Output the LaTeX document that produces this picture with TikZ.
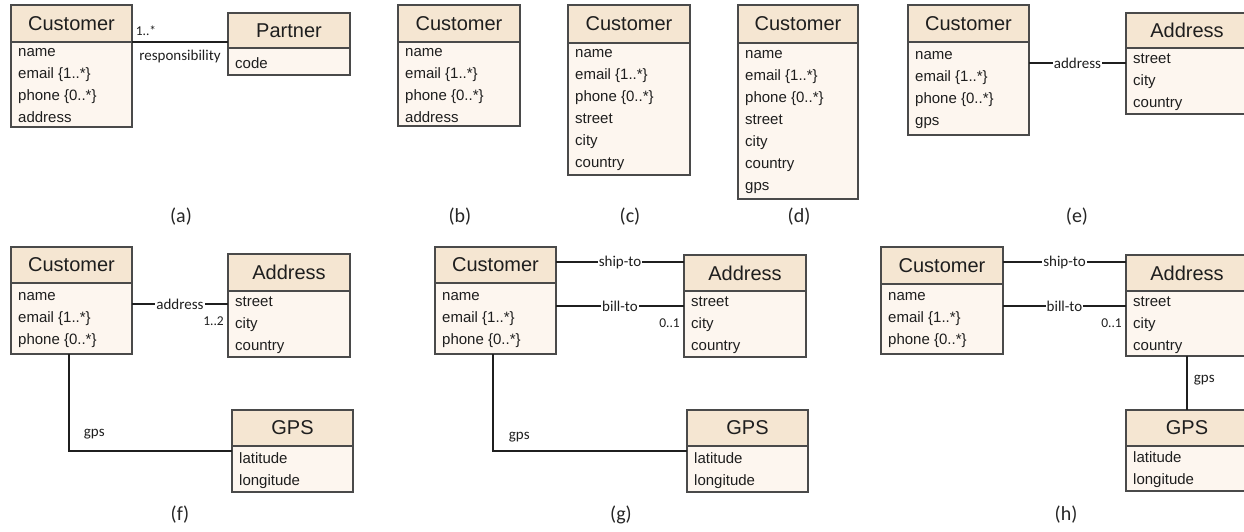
\documentclass[tikz,border=0pt]{standalone}
\usepackage{fontspec}
\setmainfont{Liberation Sans}
\newfontfamily\lblfont{Carlito}
\usetikzlibrary{calc}
\definecolor{hdrfill}{HTML}{F5E6D2}
\definecolor{bdyfill}{HTML}{FDF6EF}
\definecolor{boxline}{HTML}{4A4A4A}
\definecolor{txt}{HTML}{1E1E1E}
\tikzset{
 hdr/.style={draw=boxline, line width=1.4pt, fill=hdrfill, inner sep=0pt, outer sep=0pt, font=\fontsize{20}{24}\selectfont, text=txt},
 bdy/.style={draw=boxline, line width=1.4pt, fill=bdyfill, inner sep=0pt, outer sep=0pt},
 attr/.style={align=left, inner sep=0pt, font=\fontsize{15}{22}\selectfont, text=txt},
 conn/.style={line width=1.8pt, draw=black!88},
 onlbl/.style={fill=white, inner sep=1pt, font=\lblfont\fontsize{15}{17}\selectfont, text=txt},
 lbl/.style={inner sep=1pt, font=\lblfont\fontsize{15}{17}\selectfont, text=txt},
 mult/.style={inner sep=0pt, font=\lblfont\fontsize{13.5}{15}\selectfont, text=txt},
 subcap/.style={inner sep=0pt, font=\lblfont\fontsize{20}{24}\selectfont, text=black!85},
}
% #1 name, #2 x, #3 y, #4 width, #5 header height, #6 body height, #7 title, #8 attributes
\newcommand\umlbox[8]{%
 \node[hdr, minimum width=#4pt, minimum height=#5pt, anchor=north west] (#1h) at (#2,#3) {#7};
 \node[bdy, minimum width=#4pt, minimum height=#6pt, anchor=north west] (#1) at (#1h.south west) {};
 \node[attr, anchor=west] (#1t) at ([xshift=7pt,yshift=-1.5pt]#1.west) {#8};
}
\begin{document}
\begin{tikzpicture}[x=1pt,y=-1pt]
\useasboundingbox (0,0) rectangle (1244,531);
\clip (0,0) rectangle (1244,531);
% (a)
\umlbox{caA}{11}{5}{121}{37}{85}{Customer}{name\\email \{1..*\}\\phone \{0..*\}\\address}
\umlbox{paA}{228}{13}{122}{35}{27}{Partner}{code}
\draw[conn] (caAh.south east) -- (caAh.south east -| paAh.west)
  node[pos=0.146, mult, anchor=base, yshift=6.5pt] {1..*}
  node[pos=0.5, lbl, anchor=base, yshift=-18pt] {responsibility};
% (b)
\umlbox{cuB}{398}{5}{122}{37}{84}{Customer}{name\\email \{1..*\}\\phone \{0..*\}\\address}
% (c)
\umlbox{cuC}{568}{5}{122}{38}{132}{Customer}{name\\email \{1..*\}\\phone \{0..*\}\\street\\city\\country}
% (d)
\umlbox{cuD}{738}{5}{120}{38}{156}{Customer}{name\\email \{1..*\}\\phone \{0..*\}\\street\\city\\country\\gps}
% (e)
\umlbox{cuE}{908}{5}{121}{37}{93}{Customer}{name\\email \{1..*\}\\phone \{0..*\}\\gps}
\umlbox{adE}{1126}{13}{122}{35}{66}{Address}{street\\city\\country}
\coordinate (eA) at ([yshift=-15pt]adE.north west);
\draw[conn] (cuE.east |- eA) -- (eA) node[midway, onlbl] {address};
% (f)
\umlbox{cuF}{11}{247}{121}{36}{71}{Customer}{name\\email \{1..*\}\\phone \{0..*\}}
\umlbox{adF}{228}{254}{122}{37}{66}{Address}{street\\city\\country}
\umlbox{gpF}{232}{410}{121}{36}{46}{GPS}{latitude\\longitude}
\coordinate (fA) at ([yshift=-13pt]adF.north west);
\draw[conn] (cuF.east |- fA) -- (fA) node[midway, onlbl] {address};
\node[mult, anchor=north east, xshift=-4pt, yshift=-12.5pt] (fM) at (fA) {1..2};
\coordinate (fG) at ([yshift=-5pt]gpF.north west);
\draw[conn] ([xshift=-2.5pt]cuF.south) |- (fG)
  node[pos=0.5, lbl, anchor=base west, xshift=13pt, yshift=15pt] {gps};
% (g)
\umlbox{cuG}{435}{247}{121}{36}{71}{Customer}{name\\email \{1..*\}\\phone \{0..*\}}
\umlbox{adG}{684}{255}{122}{36}{66}{Address}{street\\city\\country}
\umlbox{gpG}{687}{410}{121}{36}{46}{GPS}{latitude\\longitude}
\coordinate (gS) at ([yshift=-7pt]adGh.north west);
\coordinate (gB) at ([yshift=-15pt]adG.north west);
\draw[conn] (cuGh.east |- gS) -- (gS) node[midway, onlbl] {ship-to};
\draw[conn] (cuG.east |- gB) -- (gB) node[midway, onlbl] {bill-to};
\node[mult, anchor=north east, xshift=-4pt, yshift=-12.5pt] (gM) at (gB) {0..1};
\coordinate (gG) at ([yshift=-5pt]gpG.north west);
\draw[conn] ([xshift=-2.5pt]cuG.south) |- (gG)
  node[pos=0.5, lbl, anchor=base west, xshift=14pt, yshift=12pt] {gps};
% (h)
\umlbox{cuH}{881}{247}{122}{37}{70}{Customer}{name\\email \{1..*\}\\phone \{0..*\}}
\umlbox{adH}{1126}{255}{122}{36}{65}{Address}{street\\city\\country}
\umlbox{gpH}{1126}{410}{122}{36}{45}{GPS}{latitude\\longitude}
\coordinate (hS) at ([yshift=-7pt]adHh.north west);
\coordinate (hB) at ([yshift=-15pt]adH.north west);
\draw[conn] (cuHh.east |- hS) -- (hS) node[midway, onlbl] {ship-to};
\draw[conn] (cuH.east |- hB) -- (hB) node[midway, onlbl] {bill-to};
\node[mult, anchor=north east, xshift=-4pt, yshift=-12.5pt] (hM) at (hB) {0..1};
\draw[conn] (adH.south) -- (gpHh.north) node[midway, lbl, anchor=west, xshift=5pt, yshift=3pt] {gps};
% captions
\node[subcap] (capA) at (181,217) {(a)};
\node[subcap] (capB) at (460,217) {(b)};
\node[subcap] (capC) at (630,217) {(c)};
\node[subcap] (capD) at (799,217) {(d)};
\node[subcap] (capE) at (1077,217) {(e)};
\node[subcap] (capF) at (180,515) {(f)};
\node[subcap] (capG) at (621,515) {(g)};
\node[subcap] (capH) at (1066,515) {(h)};
\end{tikzpicture}
\end{document}
